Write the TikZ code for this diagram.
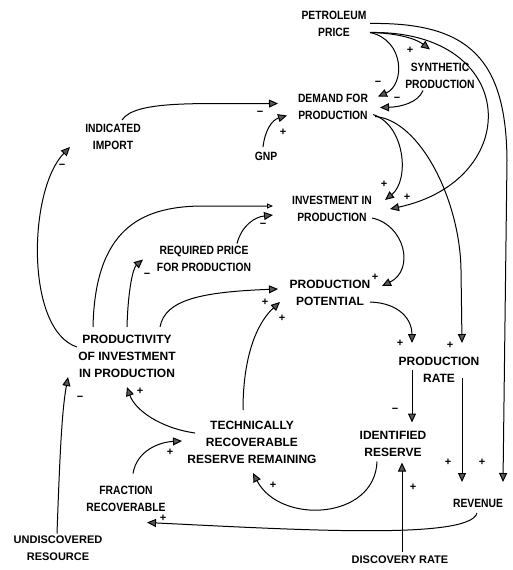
\documentclass[tikz,border=0pt]{standalone}
\usepackage{fontspec}
\setmainfont{Liberation Sans}
\newfontfamily\thinfont[FakeStretch=0.86]{Liberation Sans}
\usetikzlibrary{arrows.meta}
\tikzset{
  thinlabel/.style={font=\thinfont\bfseries\fontsize{12}{17}\selectfont, align=center, inner sep=1pt},
  boldlabel/.style={font=\bfseries\fontsize{12}{17}\selectfont, align=center, inner sep=1pt},
  smalllabel/.style={font=\bfseries\fontsize{11}{17}\selectfont, align=center, inner sep=1pt},
  sign/.style={font=\bfseries\fontsize{11}{11}\selectfont, inner sep=0pt},
  link/.style={line width=1pt, -{Triangle[length=9pt,width=8pt,fill=black!65]}},
}
\begin{document}
\begin{tikzpicture}[x=1pt,y=-1pt]
        \useasboundingbox (0,0) rectangle (513,570);

        % Points
        \node[thinlabel] (price) at (334,23.5) {PETROLEUM\\PRICE};
        \node[thinlabel] (synth) at (440,75.5) {SYNTHETIC\\PRODUCTION};
        \node[thinlabel] (demand) at (333,106.5) {DEMAND FOR\\PRODUCTION};
        \node[thinlabel] (import) at (113,137) {INDICATED\\IMPORT};
        \node[thinlabel] (gnp) at (266,156) {GNP};
        \node[thinlabel] (invest) at (332,209) {INVESTMENT IN\\PRODUCTION};
        \node[thinlabel] (reqprice) at (204,258.5) {REQUIRED PRICE\\FOR PRODUCTION};
        \node[boldlabel] (potential) at (330,293) {PRODUCTION\\POTENTIAL};
        \node[boldlabel] (productivity) at (127,356) {PRODUCTIVITY\\OF INVESTMENT\\IN PRODUCTION};
        \node[boldlabel] (prate) at (439,370) {PRODUCTION\\RATE};
        \node[boldlabel] (identified) at (393,443.5) {IDENTIFIED\\RESERVE};
        \node[boldlabel] (tech) at (252,442) {TECHNICALLY\\RECOVERABLE\\RESERVE REMAINING};
        \node[thinlabel] (fraction) at (126,498.5) {FRACTION\\RECOVERABLE};
        \node[thinlabel] (revenue) at (478,503) {REVENUE};
        \node[smalllabel] (undiscovered) at (58,548.5) {UNDISCOVERED\\RESOURCE};
        \node[smalllabel] (discovery) at (400,560) {DISCOVERY RATE};

        % Lines
        \draw[link] ([shift={(36,9)}]price.center) .. controls (395,33) and (415,38) .. ([shift={(-10,-26)}]synth.center);
        \draw[link] ([shift={(36,9)}]price.center) .. controls (405,40) and (405,85) .. ([shift={(45,-10)}]demand.center);
        \draw[link] ([shift={(36,9)}]price.center) .. controls (520,30) and (525,180) .. ([shift={(58,0)}]invest.center);
        \draw[link] ([shift={(36,0)}]price.center) .. controls (470,22) and (506,60) .. (507,160) -- ([shift={(25,-21)}]revenue.center);
        \draw[link] ([shift={(-17,15)}]synth.center) .. controls (418,103) and (400,107) .. ([shift={(47,1)}]demand.center);
        \draw[link] ([shift={(9,-17)}]import.center) .. controls (135,100) and (200,104) .. ([shift={(-55,-3)}]demand.center);
        \draw[link] ([shift={(-3,-9)}]gnp.center) .. controls (265,130) and (272,120) .. ([shift={(-46,9)}]demand.center);
        \draw[link] ([shift={(40,8)}]demand.center) .. controls (405,125) and (410,180) .. ([shift={(53,-9)}]invest.center);
        \draw[link] ([shift={(42,10)}]demand.center) .. controls (420,120) and (460,200) .. (461,270) -- ([shift={(23,-27)}]prate.center);
        \draw[link] ([shift={(40,9)}]invest.center) .. controls (405,225) and (415,270) .. ([shift={(52,-7)}]potential.center);
        \draw[link] ([shift={(40,9)}]potential.center) .. controls (400,303) and (412,320) .. ([shift={(-27,-27)}]prate.center);
        \draw[link] ([shift={(-27,0)}]prate.center) -- ([shift={(19,-21)}]identified.center);
        \draw[link] ([shift={(23,8)}]prate.center) -- ([shift={(-16,-21)}]revenue.center);
        \draw[link] ([shift={(2,-8)}]discovery.center) -- ([shift={(9,19)}]identified.center);
        \draw[link] ([shift={(-16,18)}]identified.center) .. controls (375,520) and (280,525) .. ([shift={(1,31)}]tech.center);
        \draw[link] ([shift={(-1,10)}]revenue.center) .. controls (470,540) and (300,530) .. ([shift={(21,24)}]fraction.center);
        \draw[link] ([shift={(7,-25)}]fraction.center) .. controls (137,450) and (160,442) .. ([shift={(-70,-1)}]tech.center);
        \draw[link] ([shift={(-57,-9)}]tech.center) .. controls (160,428) and (135,410) .. ([shift={(0,31)}]productivity.center);
        \draw[link] ([shift={(-9,-32)}]tech.center) .. controls (243,350) and (260,320) .. ([shift={(-50,9)}]potential.center);
        \draw[link] ([shift={(33,-29)}]productivity.center) .. controls (165,300) and (200,292) .. ([shift={(-52,-4)}]potential.center);
        \draw[link] ([shift={(0,-29)}]productivity.center) .. controls (128,290) and (133,268) .. ([shift={(-61,1)}]reqprice.center);
        \draw[link, -{Triangle[open,length=6pt,width=5pt]}] ([shift={(-34,-29)}]productivity.center) .. controls (95,230) and (140,207) .. (200,206) -- ([shift={(-59,-3)}]invest.center);
        \draw[link] ([shift={(33,-15)}]reqprice.center) .. controls (242,225) and (255,217) .. ([shift={(-59,6)}]invest.center);
        \draw[link] ([shift={(-50,-9)}]productivity.center) .. controls (25,330) and (28,190) .. ([shift={(-43,10)}]import.center);
        \draw[link] ([shift={(-1,-15)}]undiscovered.center) .. controls (60,450) and (62,410) .. ([shift={(-59,21)}]productivity.center);

        % Signs
        \node[sign] (s1) at (410,50) {+};
        \node[sign] (s2) at (378,83) {−};
        \node[sign] (s3) at (397,99) {−};
        \node[sign] (s4) at (260,113) {−};
        \node[sign] (s5) at (283,132) {+};
        \node[sign] (s6) at (384,184) {+};
        \node[sign] (s7) at (407,197) {+};
        \node[sign] (s8) at (263,225) {−};
        \node[sign] (s9) at (375,277) {+};
        \node[sign] (s10) at (265,302) {+};
        \node[sign] (s11) at (282,318) {+};
        \node[sign] (s12) at (147,275) {−};
        \node[sign] (s13) at (400,343) {+};
        \node[sign] (s14) at (450,345) {+};
        \node[sign] (s15) at (395,410) {−};
        \node[sign] (s16) at (448,462) {+};
        \node[sign] (s17) at (482,462) {+};
        \node[sign] (s18) at (413,487) {+};
        \node[sign] (s19) at (273,485) {+};
        \node[sign] (s20) at (163,518) {+};
        \node[sign] (s21) at (170,452) {+};
        \node[sign] (s22) at (140,391) {+};
        \node[sign] (s23) at (80,398) {−};
        \node[sign] (s24) at (62,166) {−};
    \end{tikzpicture}
\end{document}
